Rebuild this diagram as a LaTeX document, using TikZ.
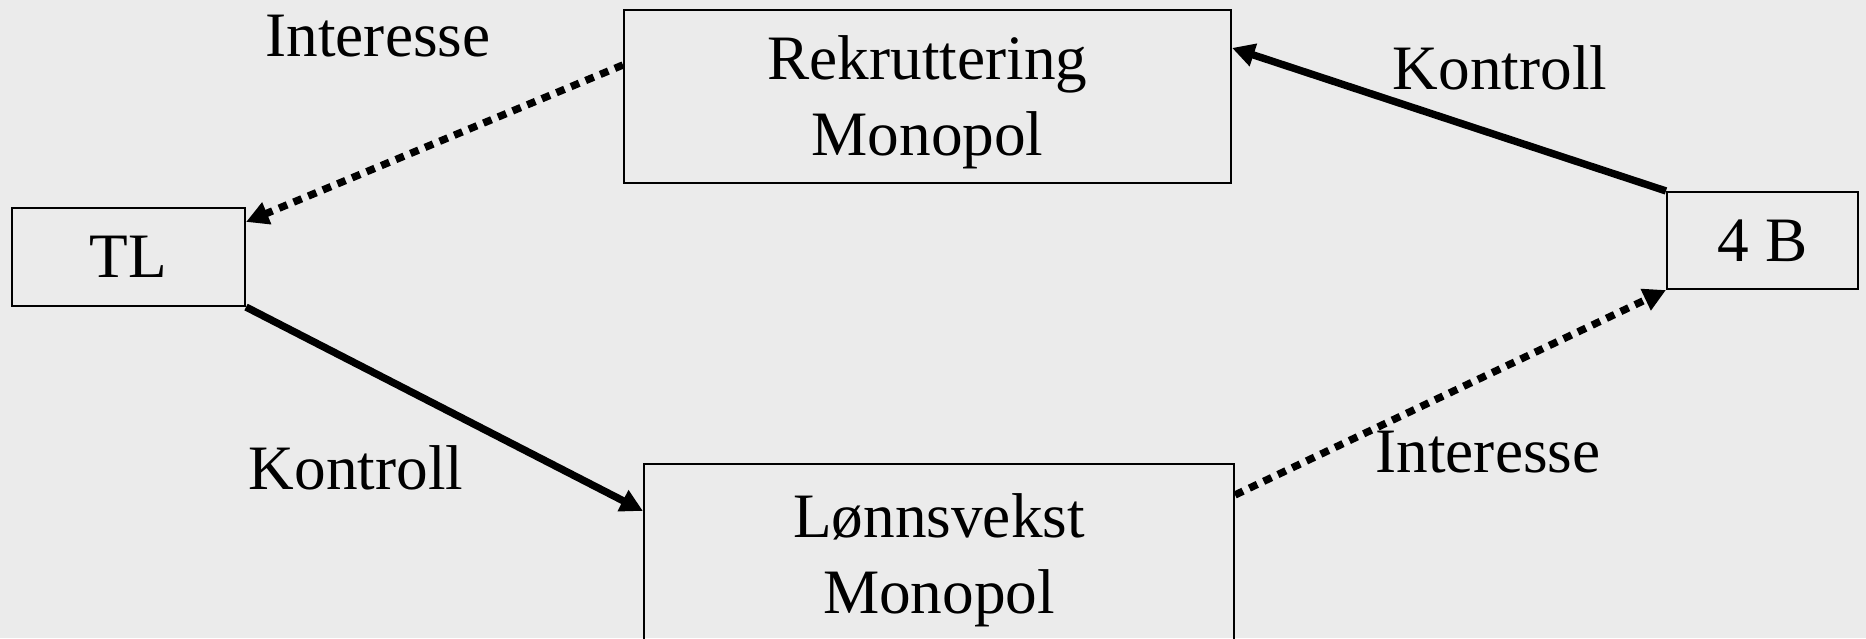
\documentclass[tikz,border=0pt]{standalone}
\usepackage{fontspec}
\setmainfont{Liberation Serif}
\usetikzlibrary{%
  arrows.meta,%
  positioning,% wg. " of "
  calc
}
\definecolor{slidegray}{RGB}{235,235,235}
\newcommand{\topstrut}{\rule{0pt}{16pt}}

\begin{document}
\begin{tikzpicture}[
  font=\fontsize{18}{21.6}\selectfont,
  >={Triangle[length=6.4pt,width=6.4pt]},
  line width=2.1pt,
  actor/.style={rectangle, inner sep=0pt, minimum height=0.98cm, minimum width=2.33cm, draw=black, line width=0.6pt},
  field/.style={rectangle, inner sep=0pt, minimum height=1.73cm, align=center, draw=black, line width=0.6pt},
  ctrl/.style={->},
  intr/.style={->, dash pattern=on 2.5pt off 2pt}
]

\useasboundingbox (0,0) rectangle (18.66,6.38);
\fill[slidegray] (0,0) rectangle (18.66,6.38);
\clip (0,0) rectangle (18.66,6.38);

\node[actor] (tl) at (1.285,3.81) {TL};
\node[actor, minimum width=1.91cm, minimum height=0.97cm] (fourb) at (17.625,3.975) {4 B};
\node[field, minimum width=6.07cm] (rek) at (9.275,5.415) {\topstrut Rekruttering\\Monopol};
\node[field, minimum width=5.9cm, minimum height=1.8cm] (lonn) at (9.39,0.84) {\topstrut Lønnsvekst\\Monopol};

\node (int1) at (3.78,6.02) {Interesse};
\node (kon1) at (15.00,5.70) {Kontroll};
\node (kon2) at (3.56,1.70) {Kontroll};
\node (int2) at (14.88,1.86) {Interesse};

\draw[intr] ([yshift=0.315cm]rek.west) -- ([yshift=-0.15cm]tl.north east);
\draw[ctrl] (fourb.north west) -- ([yshift=-0.39cm]rek.north east);
\draw[ctrl] (tl.south east) -- ([yshift=-0.48cm]lonn.north west);
\draw[intr] ([yshift=-0.32cm]lonn.north east) -- (fourb.south west);

\end{tikzpicture}
\end{document}
